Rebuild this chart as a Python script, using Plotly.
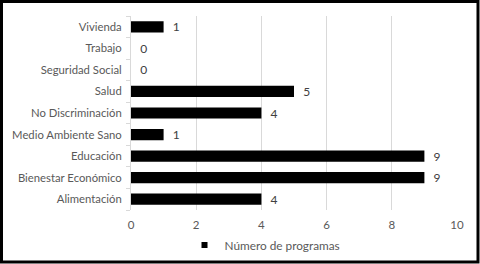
import plotly.graph_objects as go

categories = ["Alimentación", "Bienestar Económico", "Educación", "Medio Ambiente Sano",
              "No Discriminación", "Salud", "Seguridad Social", "Trabajo", "Vivienda"]
values = [4, 9, 9, 1, 4, 5, 0, 0, 1]
series_name = "Número de programas"
x_ticks = [0, 2, 4, 6, 8, 10]

FONT = "Lato"
GRAY = "#595959"

fig = go.Figure()
fig.add_trace(go.Bar(
    y=categories, x=values, orientation="h", name=series_name,
    marker=dict(color="black", line=dict(width=0)),
    text=["\u00a0\u00a0" + str(v) for v in values], textposition="outside",
    constraintext="none",
    textfont=dict(family=FONT, size=12, color="#404040"),
    cliponaxis=False, showlegend=False,
))
# legend entry with small square marker
fig.add_trace(go.Scatter(
    x=[None], y=[None], mode="markers", name=series_name,
    marker=dict(symbol="square", size=6, color="black"), showlegend=True,
))

L, R, T, B = 131, 457, 16, 210
W, H = 480, 264
pw, ph = R - L, B - T

def px(x):
    return (x - L) / pw

def py(y):
    return (B - y) / ph

fig.update_layout(
    width=W, height=H,
    margin=dict(l=L, r=W - R, t=T, b=H - B, pad=0, autoexpand=False),
    paper_bgcolor="white", plot_bgcolor="white",
    bargap=0.48,
    font=dict(family=FONT, size=11, color=GRAY),
    showlegend=True,
    legend=dict(orientation="h", xref="container", yref="container",
                x=265 / W, xanchor="center", y=(H - 245) / H, yanchor="middle",
                font=dict(family=FONT, size=11.8, color=GRAY), itemwidth=30,
                bgcolor="rgba(0,0,0,0)"),
    xaxis=dict(range=[0, 10], tickvals=x_ticks, showgrid=True, gridcolor="#d9d9d9",
               gridwidth=1, zeroline=False, showline=False, ticks="",
               tickfont=dict(family=FONT, size=11.5, color=GRAY), ticklabelstandoff=6,
               automargin=False),
    yaxis=dict(type="category", categoryorder="array", categoryarray=categories,
               showgrid=False, showline=True, linecolor="#d9d9d9", linewidth=1,
               ticks="outside", tickson="boundaries", ticklen=4, tickcolor="#d9d9d9",
               ticklabelstandoff=6, automargin=False,
               tickfont=dict(family=FONT, size=11.3, color=GRAY)),
    shapes=[dict(type="rect", xref="paper", yref="paper",
                 x0=px(1.5), x1=px(478), y0=py(1.5), y1=py(262),
                 line=dict(color="black", width=3), fillcolor="rgba(0,0,0,0)")],
)

fig.write_html("out.html")
